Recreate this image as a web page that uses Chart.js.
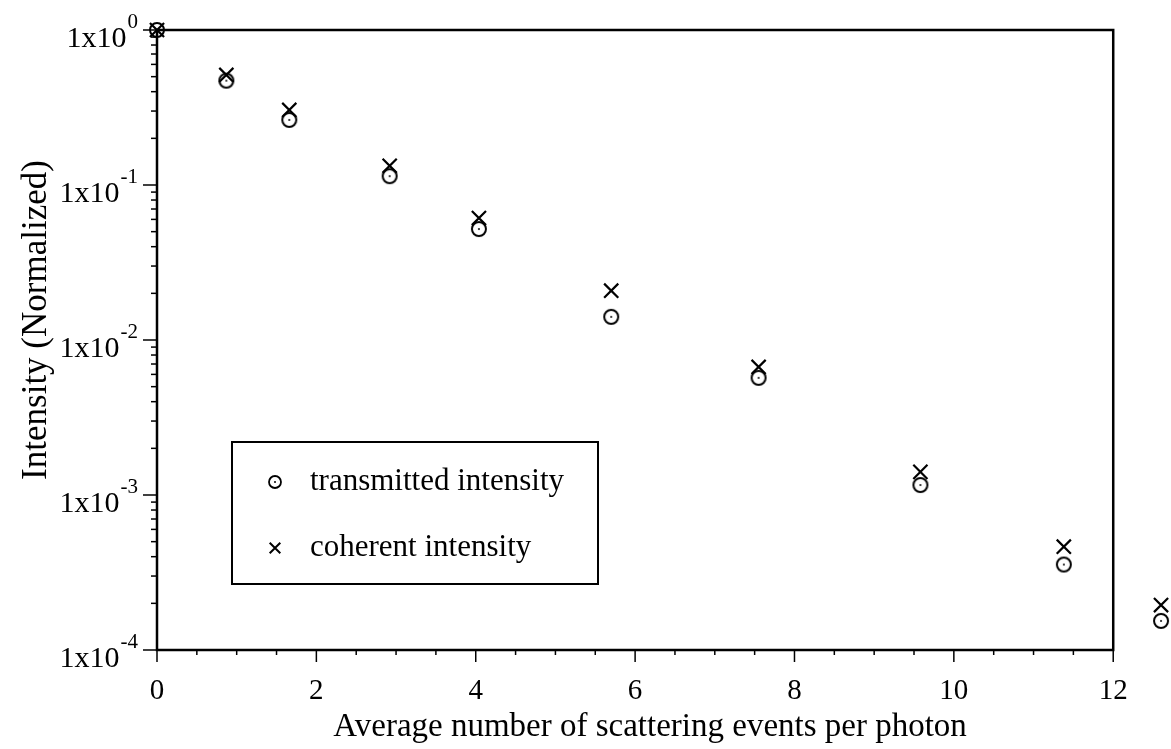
<!DOCTYPE html>
<html>
<head>
<meta charset="utf-8">
<script src="https://cdn.jsdelivr.net/npm/chart.js@4"></script>
<style>
  html, body { margin: 0; padding: 0; background: #fff; overflow: hidden; }
  #wrap { width: 1171px; height: 749px; position: relative; }
  canvas { display: block; }
</style>
</head>
<body>
<div id="wrap"><canvas id="scatterChart"></canvas></div>
<script>
// ---------------- DATA ----------------
const scatterEvents = [0, 0.87, 1.66, 2.92, 4.04, 5.70, 7.55, 9.58, 11.38, 12.60];
const transmitted = [1.0, 0.471, 0.263, 0.114, 0.052, 0.0141, 0.0057, 0.00116, 0.000356, 0.000154];
const coherent = [1.0, 0.513, 0.305, 0.133, 0.0612, 0.0208, 0.0067, 0.00141, 0.000464, 0.000195];
const xTickValues = [0, 2, 4, 6, 8, 10, 12];
const yExponents = [0, -1, -2, -3, -4];
const seriesNames = ["transmitted intensity", "coherent intensity"];
const xTitle = "Average number of scattering events per photon";
const yTitle = "Intensity (Normalized)";

const FONT = "'Liberation Serif', 'Times New Roman', serif";
const X_FRAME_MAX = 12;   // the box ends at 12, the last points sit outside it

// circle with a dot in the middle, used as point style
function makeDotCircle(r, lw) {
    const c = document.createElement("canvas");
    const s = Math.ceil(r * 2 + 4);
    c.width = s; c.height = s;
    const g = c.getContext("2d");
    g.strokeStyle = "#000";
    g.lineWidth = lw;
    g.beginPath();
    g.arc(s / 2, s / 2, r, 0, Math.PI * 2);
    g.stroke();
    g.fillStyle = "#000";
    g.beginPath();
    g.arc(s / 2, s / 2, 1, 0, Math.PI * 2);
    g.fill();
    return c;
}
const dotCircle = makeDotCircle(7, 2);
const dotCircleSmall = makeDotCircle(6, 1.8);

// ---------------- FRAME / TICKS / LABELS / LEGEND ----------------
const framePlugin = {
    id: "framePlugin",
    afterDraw(chart) {
        const ctx = chart.ctx;
        const a = chart.chartArea;
        const xs = chart.scales.x;
        const ys = chart.scales.y;
        const right = xs.getPixelForValue(X_FRAME_MAX);
        ctx.save();
        ctx.strokeStyle = "#000";
        ctx.lineWidth = 2.5;
        ctx.strokeRect(a.left, a.top, right - a.left, a.bottom - a.top);

        // x tick marks (every 0.5, major on even numbers)
        ctx.lineWidth = 1.5;
        for (let v = 0; v <= X_FRAME_MAX; v += 0.5) {
            const px = xs.getPixelForValue(v);
            const len = v % 2 === 0 ? 12 : 5;
            ctx.beginPath();
            ctx.moveTo(px, a.bottom);
            ctx.lineTo(px, a.bottom + len);
            ctx.stroke();
        }

        // y tick marks (decades + minor 2..9)
        yExponents.forEach(e => {
            const base = Math.pow(10, e);
            let py = ys.getPixelForValue(base);
            ctx.beginPath();
            ctx.moveTo(a.left, py);
            ctx.lineTo(a.left - 14, py);
            ctx.stroke();
            if (e < 0) {
                for (let k = 2; k <= 9; k++) {
                    py = ys.getPixelForValue(k * base);
                    ctx.beginPath();
                    ctx.moveTo(a.left, py);
                    ctx.lineTo(a.left - 6, py);
                    ctx.stroke();
                }
            }
        });

        // y tick labels 1x10^n, right aligned at x = 138
        ctx.fillStyle = "#000";
        ctx.textBaseline = "alphabetic";
        yExponents.forEach(e => {
            const py = ys.getPixelForValue(Math.pow(10, e));
            ctx.font = "21px " + FONT;
            const expText = String(e);
            const expW = ctx.measureText(expText).width;
            ctx.textAlign = "left";
            ctx.fillText(expText, 138 - expW, py - 2);
            ctx.font = "30px " + FONT;
            ctx.textAlign = "right";
            ctx.fillText("1x10", 138 - expW - 1, py + 17);
        });

        // axis titles
        ctx.font = "33px " + FONT;
        ctx.textAlign = "center";
        ctx.textBaseline = "middle";
        ctx.fillText(xTitle, (a.left + right) / 2 + 15, 727);
        ctx.save();
        ctx.translate(37, 320);
        ctx.rotate(-Math.PI / 2);
        ctx.font = "35px " + FONT;
        ctx.fillText(yTitle, 0, 0);
        ctx.restore();

        // legend box
        ctx.lineWidth = 2;
        ctx.strokeRect(232, 442, 366, 142);
        ctx.font = "31px " + FONT;
        ctx.textAlign = "left";
        ctx.textBaseline = "middle";
        const rowY = [482, 548];
        chart.data.datasets.forEach((ds, i) => {
            Chart.helpers.drawPoint(ctx, {
                pointStyle: i === 0 ? dotCircleSmall : "crossRot",
                radius: 7.5,
                borderWidth: 1.6,
                rotation: 0
            }, 275, rowY[i]);
            ctx.fillStyle = "#000";
            ctx.fillText(ds.label, 310, rowY[i]);
        });
        ctx.restore();
    }
};

// ---------------- SCATTER CHART ----------------
new Chart(document.getElementById("scatterChart"), {
    type: "scatter",
    data: {
        datasets: [{
            label: seriesNames[0],
            data: scatterEvents.map((x, i) => ({ x: x, y: transmitted[i] })),
            pointStyle: dotCircle,
            borderColor: "#000",
            backgroundColor: "#000",
            clip: false
        }, {
            label: seriesNames[1],
            data: scatterEvents.map((x, i) => ({ x: x, y: coherent[i] })),
            pointStyle: "crossRot",
            pointRadius: 10,
            pointBorderWidth: 2.2,
            borderColor: "#000",
            backgroundColor: "#000",
            clip: false
        }]
    },
    options: {
        responsive: true,
        maintainAspectRatio: false,
        animation: false,
        layout: { autoPadding: false, padding: { top: 30, right: 2, left: 0, bottom: 0 } },
        plugins: { legend: { display: false }, tooltip: { enabled: false } },
        scales: {
            x: {
                type: "linear",
                min: 0,
                max: 12.7,
                grid: { display: false },
                border: { display: false },
                afterBuildTicks: scale => {
                    scale.ticks = xTickValues.map(v => ({ value: v }));
                },
                afterFit: scale => {
                    scale.height = 99;
                    scale.paddingLeft = 0;
                    scale.paddingRight = 0;
                },
                ticks: {
                    autoSkip: false,
                    maxRotation: 0,
                    padding: 16,
                    color: "#000",
                    font: { family: FONT, size: 29 },
                    callback: v => String(v)
                }
            },
            y: {
                type: "logarithmic",
                min: 1e-4,
                max: 1,
                grid: { display: false },
                border: { display: false },
                ticks: { display: false },
                afterFit: scale => {
                    scale.width = 157;
                    scale.paddingTop = 0;
                    scale.paddingBottom = 0;
                }
            }
        }
    },
    plugins: [framePlugin]
});
</script>
</body>
</html>
